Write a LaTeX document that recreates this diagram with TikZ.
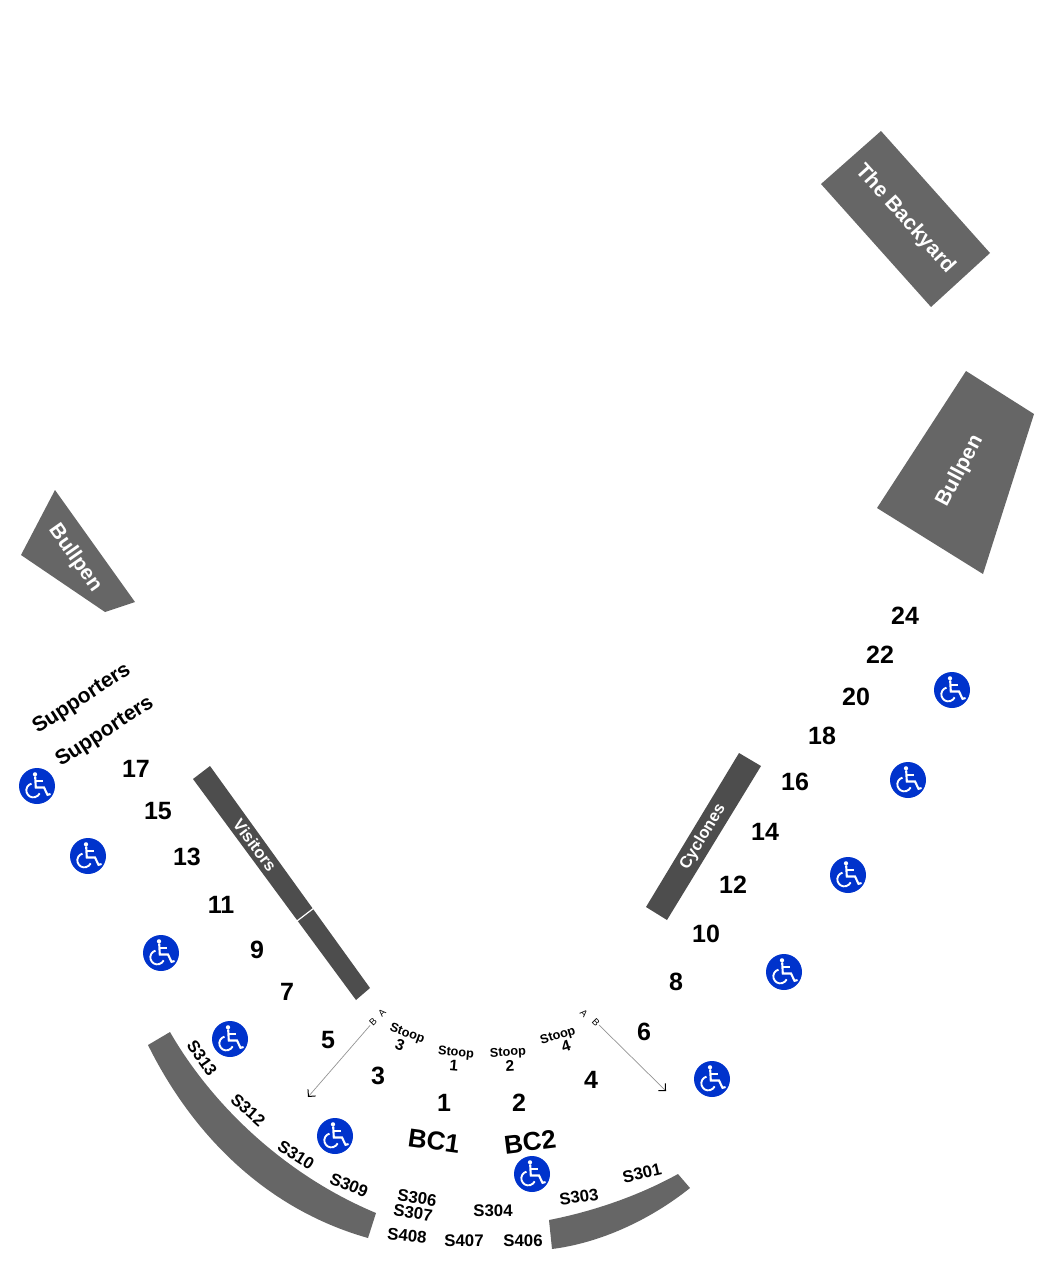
\documentclass[tikz,border=0pt]{standalone}
\usepackage{fontspec}
\setmainfont{Liberation Sans}
\usetikzlibrary{arrows.meta}
\definecolor{zonegrey}{HTML}{666666}
\definecolor{benchgrey}{HTML}{4D4D4D}
\definecolor{accessblue}{HTML}{0033CC}
\tikzset{
	num/.style = {font=\fontsize{25}{25}\selectfont\bfseries},
	bc/.style = {font=\fontsize{26}{26}\selectfont\bfseries},
	sec/.style = {font=\fontsize{16.8}{16.8}\selectfont\bfseries},
	stoop/.style = {font=\fontsize{12.7}{13}\selectfont\bfseries, align=center, inner sep=0pt},
	stoopnum/.style = {font=\fontsize{15.5}{13}\selectfont\bfseries},
	tiny/.style = {font=\fontsize{9.5}{9.5}\selectfont, inner sep=1pt},
	fans/.style = {font=\fontsize{21}{21}\selectfont\bfseries},
	zone/.style = {fill=zonegrey},
	bench/.style = {fill=benchgrey},
	zonetext/.style = {text=white, font=\fontsize{21}{21}\selectfont\bfseries},
	benchtext/.style = {text=white, font=\fontsize{16.5}{17}\selectfont\bfseries},
	row/.style = {draw=gray!85, line width=0.7pt, -{Straight Barb[length=5pt,width=10pt,line width=1pt,color=black]}},
	access/.style = {circle, fill=accessblue, minimum size=36pt, inner sep=0pt, path picture={
		\begin{scope}[shift={(path picture bounding box.center)}]
			\fill[white] (-2,-11.7) circle (2.1);
			\draw[white, line width=2.1pt, line cap=round] (-1.8,-9) -- (-1.2,1.5) -- (7,1.5) -- (10.5,8.8) -- (13,8.2);
			\draw[white, line width=1.8pt] (-1.3,-4.8) -- (5.5,-4.8);
			\draw[white, line width=1.9pt] (-5.5,-2.4) arc (255:25:7);
		\end{scope}}},
}
\begin{document}
\begin{tikzpicture}[x=1pt, y=-1pt]
	\useasboundingbox (0,0) rectangle (1050,1268);
	\fill[zone] (881,131) -- (990,253) -- (931,307) -- (821,184) -- cycle;
	\fill[zone] (966,371) -- (1034,414) -- (983,574) -- (877,508) -- cycle;
	\fill[zone] (55,490) -- (135,602) -- (105,612) -- (21,555) -- cycle;
	\fill[bench] (210,766) -- (370,988) -- (356,1000) -- (193,779) -- cycle;
	\draw[white, line width=1.2pt] (297,921) -- (314,908);
	\fill[bench] (739,753) -- (761,766) -- (667,920) -- (646,907) -- cycle;
	\fill[zone] (170,1032) .. controls (212,1105) and (285,1175) .. (376,1213) -- (368,1238) .. controls (262,1208) and (190,1130) .. (148,1045) -- cycle;
	\fill[zone] (549,1220) .. controls (595,1211) and (640,1195) .. (678,1174) -- (690,1188) .. controls (650,1220) and (600,1243) .. (552,1249) -- cycle;
	\node[zonetext, rotate=-48] (backyard) at (905,219) {The Backyard};
	\node[zonetext, rotate=62] (bullpenright) at (960,471) {Bullpen};
	\node[zonetext, rotate=-55] (bullpenleft) at (75,558) {Bullpen};
	\node[benchtext, rotate=-53] (visitors) at (255,845) {Visitors};
	\node[benchtext, rotate=59] (cyclones) at (703,837) {Cyclones};
	\node[num] (n24) at (905,616) {24};
	\node[num] (n22) at (880,655) {22};
	\node[num] (n20) at (856,697) {20};
	\node[num] (n18) at (822,736) {18};
	\node[num] (n16) at (795,782) {16};
	\node[num] (n14) at (765,832) {14};
	\node[num] (n12) at (733,885) {12};
	\node[num] (n10) at (706,934) {10};
	\node[num] (n8) at (676,982) {8};
	\node[num] (n6) at (644,1032) {6};
	\node[num] (n4) at (591,1080) {4};
	\node[num] (n2) at (519,1103) {2};
	\node[num] (n1) at (444,1103) {1};
	\node[num] (n3) at (378,1076) {3};
	\node[num] (n5) at (328,1040) {5};
	\node[num] (n7) at (287,992) {7};
	\node[num] (n9) at (257,950) {9};
	\node[num] (n11) at (221,905) {11};
	\node[num] (n13) at (187,857) {13};
	\node[num] (n15) at (158,811) {15};
	\node[num] (n17) at (136,769) {17};
	\node[fans, rotate=33] (fans1) at (82,699) {Supporters};
	\node[fans, rotate=33] (fans2) at (105,732) {Supporters};
	\node[bc, rotate=-8] (bc1) at (434,1141) {BC1};
	\node[bc, rotate=7] (bc2) at (530,1142) {BC2};
	\node[sec, rotate=-55] (s313) at (202,1058) {S313};
	\node[sec, rotate=-42] (s312) at (248,1110) {S312};
	\node[sec, rotate=-32] (s310) at (296,1155) {S310};
	\node[sec, rotate=-22] (s309) at (349,1185) {S309};
	\node[sec, rotate=-8] (s306) at (417,1198) {S306};
	\node[sec, rotate=-8] (s307) at (413,1213) {S307};
	\node[sec, rotate=-6] (s408) at (407,1236) {S408};
	\node[sec] (s407) at (464,1241) {S407};
	\node[sec] (s406) at (523,1241) {S406};
	\node[sec] (s304) at (493,1211) {S304};
	\node[sec, rotate=8] (s303) at (579,1197) {S303};
	\node[sec, rotate=13] (s301) at (642,1173) {S301};
	\node[stoop, rotate=-20] (stoop3) at (407,1034) {Stoop};
	\node[stoopnum, rotate=-20] (stoop3num) at (400,1045) {3};
	\node[stoop, rotate=-5] (stoop1) at (456,1053) {Stoop};
	\node[stoopnum, rotate=-5] (stoop1num) at (454,1066) {1};
	\node[stoop, rotate=3] (stoop2) at (508,1053) {Stoop};
	\node[stoopnum, rotate=3] (stoop2num) at (510,1066) {2};
	\node[stoop, rotate=17] (stoop4) at (558,1036) {Stoop};
	\node[stoopnum, rotate=17] (stoop4num) at (566,1046) {4};
	\node[tiny, rotate=45] (leftA) at (382,1013) {A};
	\node[tiny, rotate=45] (leftB) at (373,1022) {B};
	\node[tiny, rotate=-45] (rightA) at (584,1013) {A};
	\node[tiny, rotate=-45] (rightB) at (596,1022) {B};
	\coordinate (leftend) at (308,1097);
	\coordinate (rightend) at (666,1091);
	\draw[row] (leftB) -- (leftend);
	\draw[row] (rightB) -- (rightend);
	\node[access] (wc1) at (37,786) {};
	\node[access] (wc2) at (88,856) {};
	\node[access] (wc3) at (161,953) {};
	\node[access] (wc4) at (230,1039) {};
	\node[access] (wc5) at (335,1136) {};
	\node[access] (wc6) at (532,1174) {};
	\node[access] (wc7) at (712,1079) {};
	\node[access] (wc8) at (784,972) {};
	\node[access] (wc9) at (848,875) {};
	\node[access] (wc10) at (908,780) {};
	\node[access] (wc11) at (952,690) {};
\end{tikzpicture}
\end{document}
